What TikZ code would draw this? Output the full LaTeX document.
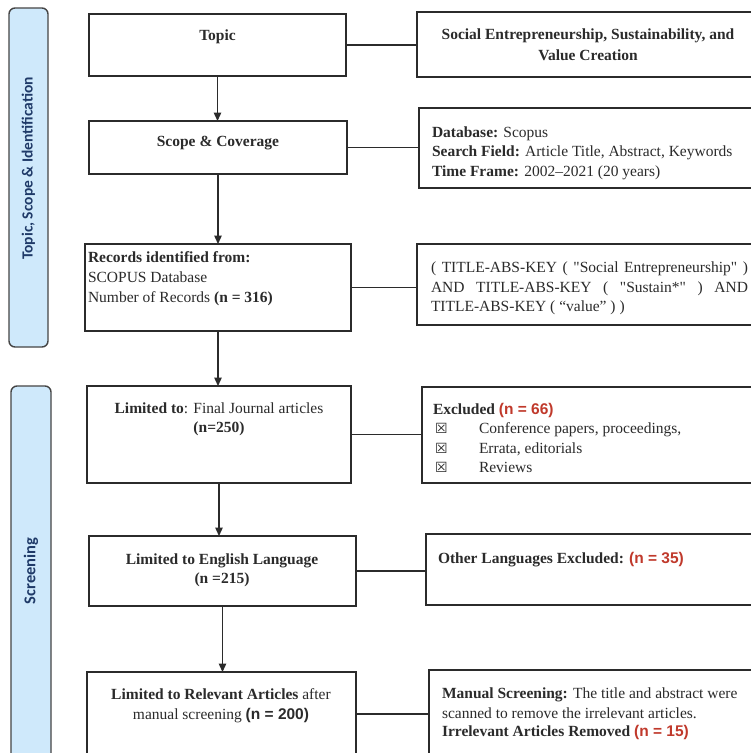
\documentclass[tikz,border=0pt]{standalone}
\usepackage{fontspec}
\setmainfont{Liberation Serif}
\setsansfont{Liberation Sans}
\newfontfamily\lanefont{Carlito}
\newfontfamily\symbfont{DejaVu Sans}
\newfontfamily\queryfont{Liberation Serif}
\usetikzlibrary{arrows.meta}

\definecolor{ink}{HTML}{2B2B2B}
\definecolor{lanefill}{HTML}{CFE9FB}
\definecolor{laneedge}{HTML}{454545}
\definecolor{lanetext}{HTML}{1F3A68}
\definecolor{countred}{HTML}{C0392B}

\newcommand\bodysize{\fontsize{15.5}{19.5}\selectfont}
\newcommand\rdcount[1]{{\sffamily\bfseries\color{countred}#1}}
\newcommand\sfcount[1]{{\sffamily\bfseries #1}}
\newcommand\exbox{{\symbfont\fontsize{14}{14}\selectfont ☒}}

\tikzset{
  box/.style={draw=ink, line width=1.4pt, fill=white, inner sep=0pt, outer sep=0pt, anchor=north west},
  lane/.style={draw=laneedge, line width=1.4pt, fill=lanefill, rounded corners=6pt, inner sep=0pt, outer sep=0pt, anchor=north west},
  lanelabel/.style={inner sep=0pt, rotate=90, text=lanetext},
  tl/.style={inner sep=0pt, outer sep=0pt, anchor=base west, font=\bodysize, text=ink},
  tc/.style={inner sep=0pt, outer sep=0pt, anchor=base, font=\bodysize, text=ink},
  link/.style={draw=ink, line width=1.3pt},
  flow/.style={link, -{Triangle[width=7.5pt,length=8.5pt]}},
}

\begin{document}
\begin{tikzpicture}[x=1pt,y=-1pt]
\useasboundingbox (0,0) rectangle (751,753);
\clip (0,0) rectangle (751,753);
\fill[white] (0,0) rectangle (751,753);

% phase lanes
\node[lane, minimum width=39pt, minimum height=339pt] (laneA) at (9,8) {};
\node[lane, minimum width=40pt, minimum height=414pt] (laneB) at (11,386) {};
\node[lanelabel, font=\lanefont\bfseries\fontsize{15.5}{15.5}\selectfont] (laneAtxt) at (28.5,168.5) {Topic, Scope \& Identification};
\node[lanelabel, font=\lanefont\bfseries\fontsize{16.5}{16.5}\selectfont] (laneBtxt) at (31,571) {Screening};

% main column
\node[box, minimum width=257pt, minimum height=62pt] (topic) at (89,14) {};
\node[box, minimum width=258pt, minimum height=53pt] (scope) at (89,121) {};
\node[box, minimum width=266pt, minimum height=87pt] (records) at (85,244) {};
\node[box, minimum width=264pt, minimum height=97pt] (limited) at (87,386) {};
\node[box, minimum width=267pt, minimum height=70pt] (english) at (89,536) {};
\node[box, minimum width=269pt, minimum height=84pt] (relevant) at (87,672) {};

% side column
\node[box, minimum width=363pt, minimum height=65pt] (r1) at (417,12) {};
\node[box, minimum width=361pt, minimum height=80pt] (r2) at (419,108) {};
\node[box, minimum width=363pt, minimum height=81pt] (r3) at (417,244) {};
\node[box, minimum width=358pt, minimum height=96pt] (r4) at (422,387) {};
\node[box, minimum width=354pt, minimum height=71pt] (r5) at (426,534) {};
\node[box, minimum width=351pt, minimum height=86pt] (r6) at (429,670) {};

% texts of the main column
\node[tc] (topicT) at (217.5,40) {\bfseries Topic};
\node[tc] (scopeT) at (218,146.5) {\bfseries Scope \& Coverage};
\node[tl] (recordsT) at (88,262) {\parbox[t]{260pt}{\textbf{Records identified from:}\\[0.5pt]
  SCOPUS Database\\[0.5pt]
  Number of Records \textbf{(n = 316)}}};
\node[tc] (limitedT) at (219,413) {\parbox[t]{260pt}{\centering
  \textbf{Limited to}: Final Journal articles\\
  \textbf{(n=250)}}};
\node[tc] (englishT) at (222,564) {\parbox[t]{260pt}{\centering
  \textbf{Limited to English Language}\\
  \textbf{(n =215)}}};
\node[tc] (relevantT) at (221,699) {\parbox[t]{265pt}{\centering
  \textbf{Limited to Relevant Articles} after\\[0.5pt]
  manual screening \sfcount{(n = 200)}}};

% texts of the side column
\node[tc] (r1T) at (588,39) {\parbox[t]{330pt}{\centering\bfseries
  Social Entrepreneurship, Sustainability, and\\[1.5pt]
  Value Creation}};
\node[tl] (r2T) at (432,137) {\parbox[t]{318pt}{\textbf{Database:} Scopus\\
  \textbf{Search Field:} Article Title, Abstract, Keywords\\
  \textbf{Time Frame:} 2002–2021 (20 years)}};
\node[tl] (r3T) at (431,272.5) {\parbox[t]{317pt}{\queryfont
  \makebox[317pt][s]{( TITLE-ABS-KEY ( "Social Entrepreneurship" )}\\
  \makebox[317pt][s]{AND TITLE-ABS-KEY ( "Sustain*" ) AND}\\
  TITLE-ABS-KEY ( “value” ) )}};
\node[tl] (r4T) at (433,414) {\parbox[t]{310pt}{\textbf{Excluded} \rdcount{(n = 66)}\\
  \makebox[46pt][l]{\hspace*{2pt}\exbox}Conference papers, proceedings,\\
  \makebox[46pt][l]{\hspace*{2pt}\exbox}Errata, editorials\\
  \makebox[46pt][l]{\hspace*{2pt}\exbox}Reviews}};
\node[tl] (r5T) at (438,563) {\textbf{Other Languages Excluded:} \rdcount{(n = 35)}};
\node[tl] (r6T) at (442,698) {\parbox[t]{305pt}{\textbf{Manual Screening:} The title and abstract were\\[0.5pt]
  scanned to remove the irrelevant articles.\\[-1pt]
  \textbf{Irrelevant Articles Removed} \rdcount{(n = 15)}}};

% flow between stages
\draw[flow] (topic.south) -- (topic.south |- scope.north);
\draw[flow] (scope.south) -- (scope.south |- records.north);
\draw[flow] (records.south) -- (records.south |- limited.north);
\draw[flow] (limited.south) -- (limited.south |- english.north);
\draw[flow] (english.south) -- (english.south |- relevant.north);

% links to the detail boxes
\draw[link] (topic.east) -- (topic.east -| r1.west);
\draw[link] (scope.east) -- (scope.east -| r2.west);
\draw[link] (records.east) -- (records.east -| r3.west);
\draw[link] (limited.east) -- (limited.east -| r4.west);
\draw[link] (english.east) -- (english.east -| r5.west);
\draw[link] (relevant.east) -- (relevant.east -| r6.west);
\end{tikzpicture}
\end{document}
